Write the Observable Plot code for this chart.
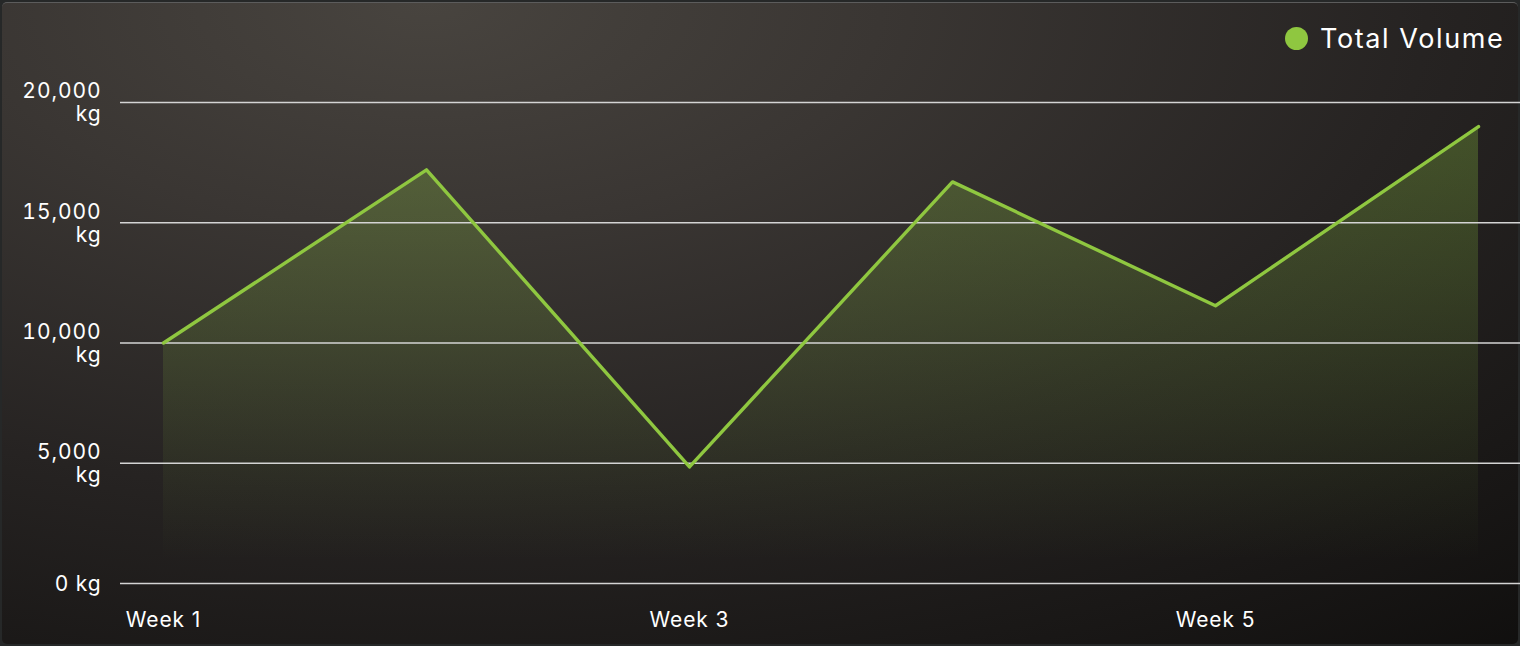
<!DOCTYPE html>
<html>
<head>
<meta charset="utf-8">
<script src="https://cdn.jsdelivr.net/npm/d3@7"></script>
<script src="https://cdn.jsdelivr.net/npm/@observablehq/plot@0.6"></script>
<style>
  html, body { margin: 0; padding: 0; background: #262828; }
  #frame { position: relative; width: 1520px; height: 646px; overflow: hidden; background: #262828; }
  #card {
    position: absolute; left: 2px; top: 2px; width: 1516px; height: 642px;
    border-top: 1px solid #5c5c5c; box-sizing: border-box; border-radius: 5px;
    background: radial-gradient(ellipse 120% 140% at 28% 0%, #48443f 0%, #3a3633 25%, #262322 55%, #0d0c0b 100%);
  }
  #chart { position: absolute; left: 0; top: 0; }
  #chart svg text { letter-spacing: 0.9px; }
  #legend {
    position: absolute; left: 1285px; top: 22px; display: flex; align-items: center;
    font-family: Inter, "Open Sans", sans-serif; font-size: 27px; letter-spacing: 1.6px; color: #ffffff;
  }
  #legend .dot { width: 23px; height: 23px; border-radius: 50%; background: #8fc740; margin-right: 12px; }
</style>
</head>
<body>
<div id="frame">
  <div id="card"></div>
  <div id="chart"></div>
  <div id="legend"><span class="dot"></span><span id="legendText"></span></div>
</div>
<script>
const weeks = ["Week 1", "Week 2", "Week 3", "Week 4", "Week 5", "Week 6"];
const volumes = [10000, 17200, 4850, 16700, 11550, 19000];
const yTicks = [0, 5000, 10000, 15000, 20000];
const xTickLabels = ["Week 1", "Week 3", "Week 5"];
const seriesName = "Total Volume";
const lineColor = "#8fc740";

document.getElementById("legendText").textContent = seriesName;

const data = weeks.map((w, i) => ({week: w, volume: volumes[i]}));
const fmt = d3.format(",");

const gradientDefs = () => {
  const defs = d3.create("svg:defs");
  const g = defs.append("linearGradient").attr("id", "areaGrad")
    .attr("gradientUnits", "userSpaceOnUse")
    .attr("x1", 0).attr("x2", 0).attr("y1", 120).attr("y2", 560);
  g.append("stop").attr("offset", "0%").attr("stop-color", lineColor).attr("stop-opacity", 0.3);
  g.append("stop").attr("offset", "60%").attr("stop-color", lineColor).attr("stop-opacity", 0.12);
  g.append("stop").attr("offset", "100%").attr("stop-color", lineColor).attr("stop-opacity", 0);
  return defs.node();
};

const plot = Plot.plot({
  width: 1520,
  height: 646,
  marginLeft: 120,
  marginRight: 0,
  marginTop: 102,
  marginBottom: 63,
  style: {background: "transparent", color: "#ffffff", fontFamily: "Inter, 'Open Sans', sans-serif", fontSize: "21px"},
  x: {type: "point", domain: weeks, padding: 0, insetLeft: 41, insetRight: 40},
  y: {domain: [0, 20000]},
  marks: [
    gradientDefs,
    Plot.areaY(data, {x: "week", y: "volume", fill: "url(#areaGrad)"}),
    Plot.ruleY(yTicks, {stroke: "#d4d4d4", strokeWidth: 1.6}),
    Plot.lineY(data, {x: "week", y: "volume", stroke: lineColor, strokeWidth: 3.4}),
    Plot.axisY(yTicks, {
      tickSize: 0, tickPadding: 19, fontSize: 21, fill: "#ffffff", lineHeight: 1.1,
      tickFormat: d => d === 0 ? "0 kg" : fmt(d) + "\nkg", label: null
    }),
    Plot.axisX(xTickLabels, {
      tickSize: 0, tickPadding: 29, fontSize: 21, fill: "#ffffff", label: null
    })
  ]
});
document.getElementById("chart").appendChild(plot);
</script>
</body>
</html>
